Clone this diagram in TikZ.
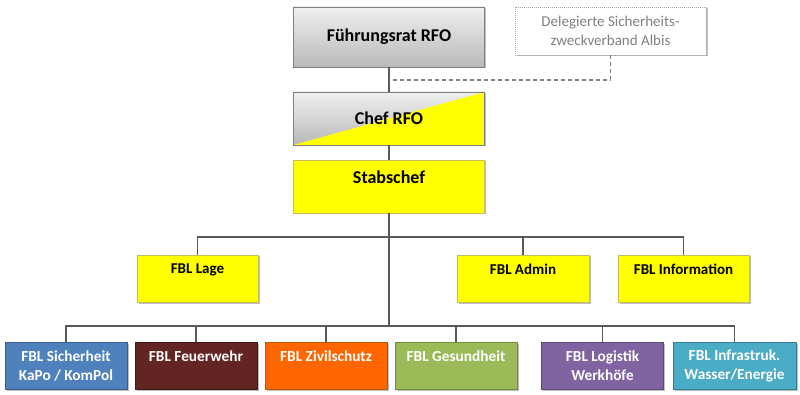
\documentclass[tikz,border=0pt]{standalone}
\usepackage{fontspec}
\setmainfont{Carlito}
\usetikzlibrary{shadows}
\definecolor{lnk}{HTML}{595959}
\definecolor{ybord}{HTML}{C4BD5A}
\definecolor{gbord}{HTML}{7F7F7F}
\definecolor{cblue}{HTML}{4F81BD}\definecolor{bblue}{HTML}{385D8A}
\definecolor{cred}{HTML}{632523}\definecolor{bred}{HTML}{3F1716}
\definecolor{corange}{HTML}{FF6600}\definecolor{borange}{HTML}{B65708}
\definecolor{cgreen}{HTML}{9BBB59}\definecolor{bgreen}{HTML}{71893F}
\definecolor{cpurple}{HTML}{8064A2}\definecolor{bpurple}{HTML}{5C4776}
\definecolor{cteal}{HTML}{4BACC6}\definecolor{bteal}{HTML}{357D91}
\definecolor{yel}{HTML}{FFFF00}
\tikzset{
  shd/.style={drop shadow={shadow xshift=1.5pt,shadow yshift=-1.5pt,opacity=0.25,fill=black}},
  box/.style={rectangle, shd, line width=0.9pt, align=center, inner sep=0pt},
  graybox/.style={box, draw=gbord, top color=gray!12, bottom color=gray!55, minimum width=191pt, minimum height=60pt, font=\fontsize{18}{19}\selectfont\bfseries},
  ybox/.style={box, draw=ybord, fill=yel, font=\fontsize{15}{19}\selectfont\bfseries},
  cbox/.style={box, text=white, minimum width=122pt, minimum height=47pt, font=\fontsize{15.3}{19}\selectfont\bfseries},
  link/.style={draw=lnk, line width=1.6pt},
  dlink/.style={draw=gray, line width=1.1pt, dash pattern=on 4pt off 3pt}
}
\begin{document}
\begin{tikzpicture}[x=1pt,y=-1pt]
\useasboundingbox (0,0) rectangle (800,395);
% top
\node[graybox] (fr) at (389,37) {Führungsrat RFO};
\node[box, draw=gray!70, fill=white, dash pattern=on 1pt off 1pt, line width=0.8pt, minimum width=191pt, minimum height=48pt, text=gray, font=\fontsize{15}{19}\selectfont] (dele) at (610.5,31) {Delegierte Sicherheits-\\zweckverband Albis};
\node[graybox, minimum height=53pt, path picture={\fill[yel] (path picture bounding box.south west) -- (path picture bounding box.north east) -- (path picture bounding box.south east) -- cycle;}] (chef) at (389,118.5) {Chef RFO};
\node[ybox, minimum width=191pt, minimum height=53pt, font=\fontsize{18}{19}\selectfont\bfseries] (stab) at (389,186.5) {Stabschef\\\mbox{}};
% level 2
\node[ybox, minimum width=121pt, minimum height=47pt] (lage) at (197.5,278.5) {FBL Lage\\\mbox{}};
\node[ybox, minimum width=132pt, minimum height=47pt] (admin) at (523,278.5) {FBL Admin\\\mbox{}};
\node[ybox, minimum width=131pt, minimum height=47pt] (info) at (683.5,278.5) {FBL Information\\\mbox{}};
% level 3
\node[cbox, fill=cblue, draw=bblue] (sich) at (66,365.5) {FBL Sicherheit\\KaPo / KomPol};
\node[cbox, fill=cred, draw=bred] (feuer) at (196,365.5) {FBL Feuerwehr\\\mbox{}};
\node[cbox, fill=corange, draw=borange] (zivil) at (326,365.5) {FBL Zivilschutz\\\mbox{}};
\node[cbox, fill=cgreen, draw=bgreen] (gesund) at (456,365.5) {FBL Gesundheit\\\mbox{}};
\node[cbox, fill=cpurple, draw=bpurple] (logi) at (602.5,365.5) {FBL Logistik\\Werkhöfe};
\node[cbox, fill=cteal, draw=bteal, minimum width=123pt] (infra) at (734.5,365.5) {FBL Infrastruk.\\Wasser/Energie};
% connectors
\coordinate (dj) at (389,80);
\coordinate (h2) at (389,237);
\coordinate (h3) at (389,326);
\draw[link] (fr.south) -- (chef.north);
\draw[link] (chef.south) -- (stab.north);
\draw[link] (stab.south) -- (h3);
\draw[dlink] (dele.south) |- (dj);
\draw[link] (lage.north) |- (h2) -| (info.north);
\draw[link] (admin.north) -- (admin.north |- h2);
\draw[link] (sich.north) |- (h3) -| (infra.north);
\draw[link] (feuer.north) -- (feuer.north |- h3);
\draw[link] (zivil.north) -- (zivil.north |- h3);
\draw[link] (gesund.north) -- (gesund.north |- h3);
\draw[link] (logi.north) -- (logi.north |- h3);
\end{tikzpicture}
\end{document}
